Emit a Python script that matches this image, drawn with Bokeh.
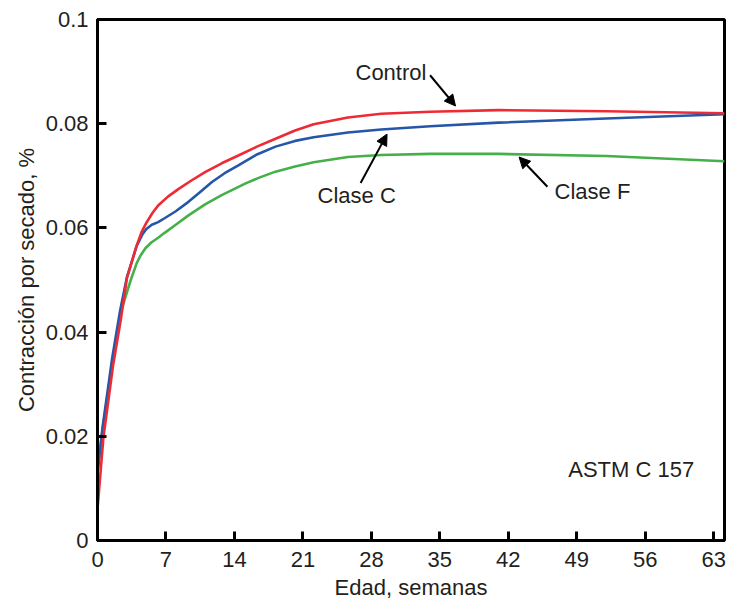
from bokeh.plotting import figure
from bokeh.models import Arrow, NormalHead, Label, FixedTicker, Range1d
from bokeh.embed import file_html
from bokeh.resources import INLINE

# ---- data (edad en semanas, contraccion %) ----
control_x = [0, 0.6, 1.6, 2.4, 3.0, 4.0, 4.5, 5.0, 5.6, 6.2, 7.2, 8.3, 9.6, 11.0, 12.7, 14.4, 16.3, 18.2, 20.2,
             22.1, 25.6, 29, 34, 41, 52, 64.1]
control_y = [0.006, 0.0197, 0.0337, 0.0426, 0.0503, 0.0566, 0.0592, 0.061, 0.0628, 0.0643, 0.0660, 0.0675,
             0.0691, 0.0707, 0.0724, 0.0739, 0.0756, 0.0771, 0.0787, 0.0799, 0.0812, 0.0819, 0.0823, 0.0826,
             0.0824, 0.0820]

claseC_x = [0, 0.5, 1.5, 2.3, 3.0, 4.0, 4.6, 5.0, 5.55, 6.2, 6.9, 8.0, 9.3, 10.5, 11.7, 13.0, 14.4, 16.3, 18.2,
            20.2, 22.1, 25.6, 29, 34, 41, 52, 64.1]
claseC_y = [0.013, 0.0215, 0.035, 0.044, 0.0505, 0.0565, 0.0588, 0.0598, 0.0606, 0.0611, 0.0619, 0.0632,
            0.065, 0.0669, 0.0688, 0.0705, 0.072, 0.0741, 0.0756, 0.0767, 0.0774, 0.0783, 0.0789, 0.0795,
            0.0802, 0.081, 0.0818]

claseF_x = [0, 0.5, 1.5, 2.4, 3.4, 4.0, 4.4, 4.9, 5.5, 6.2, 6.9, 8.0, 9.3, 11.0, 12.7, 14.0, 15.2, 16.6, 18.2,
            20.2, 22.1, 25.6, 29, 34, 41, 52, 64.1]
claseF_y = [0.013, 0.021, 0.034, 0.044, 0.050, 0.0532, 0.0547, 0.0561, 0.0572, 0.0581, 0.0591, 0.0606,
            0.0624, 0.0645, 0.0663, 0.0675, 0.0686, 0.0697, 0.0708, 0.0718, 0.0726, 0.0736, 0.074, 0.0742,
            0.0742, 0.0738, 0.0728]

x_ticks = [0, 7, 14, 21, 28, 35, 42, 49, 56, 63]
y_ticks = [0, 0.02, 0.04, 0.06, 0.08, 0.1]
y_tick_labels = ["0", "0.02", "0.04", "0.06", "0.08", "0.1"]

FONT = "Liberation Sans"
TXT = "#231f20"

p = figure(width=730, height=602, output_backend="svg", toolbar_location=None,
           x_range=Range1d(0, 64.1), y_range=Range1d(0, 0.1),
           min_border_left=97, min_border_top=19, min_border_right=6, min_border_bottom=60)
p.grid.visible = False
p.outline_line_color = "black"
p.outline_line_width = 3
p.background_fill_color = "white"
p.border_fill_color = "white"

for ax in (p.xaxis[0], p.yaxis[0]):
    ax.axis_line_color = "black"
    ax.axis_line_width = 3
    ax.major_tick_line_color = "black"
    ax.major_tick_line_width = 3
    ax.major_tick_in = 9
    ax.major_tick_out = 0
    ax.minor_tick_line_color = None
    ax.major_label_text_font = FONT
    ax.major_label_text_font_size = "22px"
    ax.major_label_text_color = TXT
    ax.axis_label_text_font = FONT
    ax.axis_label_text_font_size = "22px"
    ax.axis_label_text_font_style = "normal"
    ax.axis_label_text_color = TXT

p.xaxis.ticker = FixedTicker(ticks=x_ticks)
p.yaxis.ticker = FixedTicker(ticks=y_ticks)
p.yaxis.major_label_overrides = {t: l for t, l in zip(y_ticks, y_tick_labels)}
p.xaxis.axis_label = "Edad, semanas"
p.yaxis.axis_label = "Contracción por secado, %"
p.xaxis.major_label_standoff = 11
p.xaxis.axis_label_standoff = 5
p.yaxis.major_label_standoff = 9
p.yaxis.axis_label_standoff = 4

p.line(claseF_x, claseF_y, line_color="#45b04a", line_width=2.6)
p.line(claseC_x, claseC_y, line_color="#2556a8", line_width=2.6)
p.line(control_x, control_y, line_color="#ee2b35", line_width=2.6)

def arrow(x0, y0, x1, y1):
    p.add_layout(Arrow(end=NormalHead(size=11, fill_color="black", line_color="black", line_width=1),
                       x_start=x0, y_start=y0, x_end=x1, y_end=y1,
                       line_color="black", line_width=2))

def label(x, y, text, align="center"):
    p.add_layout(Label(x=x, y=y, text=text, text_font=FONT, text_font_size="22px",
                       text_color=TXT, text_align=align, text_baseline="middle"))

label(30.0, 0.0898, "Control")
arrow(34.0, 0.0893, 36.6, 0.0834)
label(26.5, 0.0662, "Clase C")
arrow(26.9, 0.0686, 29.6, 0.0780)
label(50.6, 0.0670, "Clase F")
arrow(46.0, 0.0679, 43.1, 0.0736)
label(61.0, 0.0136, "ASTM C 157", align="right")

open("out.html", "w").write(file_html(p, INLINE))
